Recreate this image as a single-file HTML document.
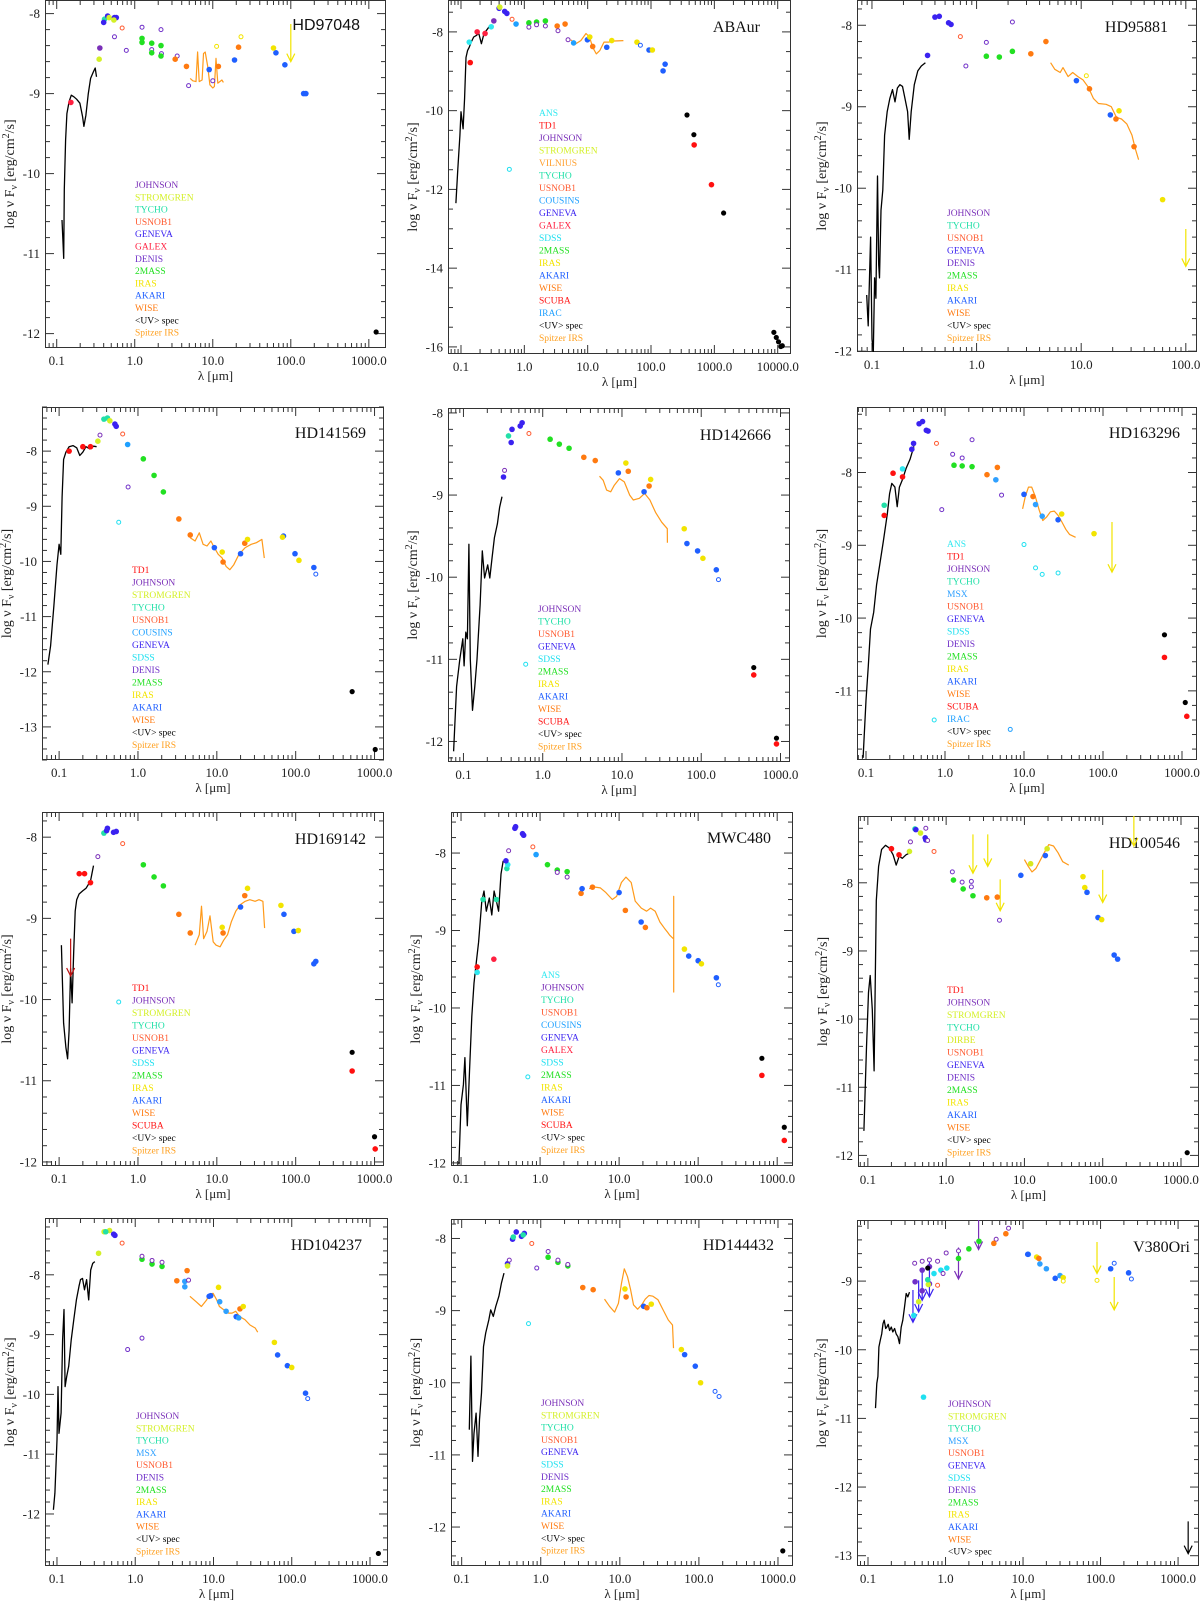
<!DOCTYPE html>
<html><head><meta charset="utf-8"><title>SED panels</title>
<style>
html,body{margin:0;padding:0;background:#fff;}
svg{display:block;font-family:"Liberation Serif","DejaVu Serif",serif;}
</style></head>
<body>
<svg id="chart" width="1200" height="1602" viewBox="0 0 1200 1602" xmlns="http://www.w3.org/2000/svg"></svg>
<script>
// ---------- DATA ----------
const p1_spec_lam=[0.117,0.120,0.123,0.125,0.130,0.135,0.144,0.154,0.166,0.180,0.198,0.215,0.223,0.237,0.254,0.272,0.294,0.311,0.324];
const p1_spec_flux=[-10.58,-10.83,-11.06,-10.2,-9.58,-9.25,-9.1,-9.02,-9.04,-9.07,-9.12,-9.29,-9.41,-9.27,-9.0,-8.81,-8.73,-8.68,-8.79];
const p1_irs_lam=[5.14,5.55,6.1,6.4,6.7,7.3,7.6,8.0,8.6,9.2,10,10.5,11,11.6,12.3,13.1,13.7];
const p1_irs_flux=[-8.81,-8.84,-8.85,-8.48,-8.85,-8.83,-8.5,-8.48,-8.66,-8.89,-8.93,-8.91,-8.56,-8.87,-8.85,-8.83,-8.86];
const p1_lam=[0.357,0.35,0.41,0.40,0.45,0.47,0.55,0.58,0.54,0.55,0.78,1.24,2.17,1.65,2.2,3.5,4.9,10,0.69,1.24,1.24,1.65,1.65,2.17,2.17,3.3,4.6,11.8,21.4,9.0,19,64.5,84,146,156,11.2,23,60,1240,0.152];
const p1_flux=[-8.43,-8.57,-8.07,-8.11,-8.03,-8.05,-8.05,-8.05,-8.08,-8.29,-8.46,-8.17,-8.2,-8.45,-8.5,-8.53,-8.9,-8.84,-8.18,-8.31,-8.36,-8.37,-8.49,-8.40,-8.53,-8.57,-8.66,-8.66,-8.42,-8.7,-8.58,-8.49,-8.64,-9.0,-9.0,-8.41,-8.29,-8.43,-11.98,-9.11];
const p1_cat=["J","S","T","G","G","S","G","G","S","Do","Do","Do","Do","Do","Do","Do","Do","Do","Uo","M2","M2","M2","M2","M2","M2","W","W","W","W","A","A","A","A","A","A","Io","Io","I","K","GX"];
const p1_arr_lam=[100], p1_arr_top=[-8.13], p1_arr_bot=[-8.6], p1_arr_cat=["I"];

const p2_spec_lam=[0.083,0.089,0.096,0.1,0.108,0.114,0.12,0.127,0.135,0.145,0.159,0.175,0.191,0.21,0.231,0.253,0.278];
const p2_spec_flux=[-12.35,-11.49,-10.63,-10.03,-10.46,-9.68,-8.65,-8.47,-8.39,-8.26,-8.13,-8.09,-8.04,-8.3,-8.04,-7.96,-7.87];
const p2_irs_lam=[5.4,6.5,7.8,9.4,10.7,12,13.7,15.6,18.1,21.8,26.3,36.7];
const p2_irs_flux=[-8.2,-8.3,-8.22,-8.04,-8.13,-8.39,-8.56,-8.47,-8.26,-8.26,-8.23,-8.22];
const p2_lam=[0.135,0.14,0.18,0.24,0.3,0.33,0.4,0.41,0.49,0.53,0.64,0.74,1.18,1.56,2.15,1.18,1.56,2.15,3.3,4.4,3.4,4.9,6,9.9,10.8,12,20,24,60,68,93,105,155,167,370,475,480,900,1400,8700,9500,10300,11200,11800,0.58];
const p2_flux=[-8.26,-8.78,-8.0,-8.04,-7.87,-7.72,-7.4,-7.37,-7.48,-7.53,-7.68,-7.8,-7.77,-7.75,-7.72,-7.88,-7.82,-7.85,-7.85,-7.8,-7.97,-8.2,-8.28,-8.2,-8.13,-8.37,-8.39,-8.22,-8.26,-8.34,-8.46,-8.46,-8.99,-8.82,-10.11,-10.61,-10.87,-11.88,-12.6,-15.63,-15.76,-15.87,-15.99,-15.97,-11.49];
const p2_cat=["AN","TD","GX","GX","AN","J","G","S","G","G","Uo","C","M2","M2","M2","Jo","Jo","Jo","W","W","Jo","Jo","IR","A","I","W","A","I","I","Ao","A","I","A","A","K","K","SC","SC","K","K","K","K","K","K","SDo"];
const p2_arr_lam=[], p2_arr_top=[], p2_arr_bot=[], p2_arr_cat=[];

const p3_spec_lam=[0.089,0.092,0.097,0.1,0.103,0.106,0.109,0.113,0.116,0.118,0.122,0.127,0.132,0.14,0.148,0.157,0.166,0.175,0.185,0.196,0.207,0.219,0.227,0.237,0.254,0.274,0.296,0.324];
const p3_spec_flux=[-11.31,-11.69,-10.6,-11.85,-12.02,-11.1,-11.35,-9.85,-10.94,-11.1,-10.27,-10.02,-9.35,-9.06,-8.9,-8.79,-8.94,-8.77,-8.73,-8.75,-8.9,-9.06,-9.4,-9.06,-8.73,-8.56,-8.5,-8.46];
const p3_irs_lam=[5.1,5.6,6.3,6.7,7.5,8.3,9.3,10.4,11.7,13.1,14.6,17.3,19.4,21.7,24.3,27.3,30.6,33,35.4];
const p3_irs_flux=[-8.46,-8.54,-8.58,-8.52,-8.63,-8.58,-8.63,-8.67,-8.76,-8.9,-8.96,-8.97,-9.0,-9.13,-9.15,-9.21,-9.35,-9.52,-9.65];
const p3_lam=[0.34,0.4,0.44,0.54,0.57,0.7,0.79,1.24,2.2,1.24,1.65,2.2,3.3,4.6,9,11.2,12,19,21.5,23,32,60];
const p3_flux=[-8.37,-7.9,-7.89,-7.97,-7.99,-8.14,-8.5,-8.21,-7.96,-8.38,-8.39,-8.32,-8.35,-8.2,-8.68,-8.62,-8.78,-9.1,-9.15,-9.05,-9.49,-10.14];
const p3_cat=["G","G","G","G","G","Uo","Do","Do","Do","M2","M2","M2","W","W","A","Io","W","A","W","I","W","I"];
const p3_arr_lam=[100], p3_arr_top=[-10.5], p3_arr_bot=[-10.96], p3_arr_cat=["I"];

const p4_spec_lam=[0.072,0.078,0.086,0.094,0.1,0.105,0.109,0.114,0.122,0.134,0.15,0.167,0.183,0.2,0.219,0.245,0.273,0.299];
const p4_spec_flux=[-11.87,-11.53,-10.8,-10.06,-9.69,-9.87,-8.83,-8.15,-8.02,-7.92,-7.9,-7.94,-8.08,-8.02,-7.92,-7.96,-7.91,-7.92];
const p4_irs_lam=[4.6,5.3,6.0,6.7,7.5,8.4,9.3,10.4,11.7,13.1,14.6,16.4,19.1,22.9,27.3,31.8,37.3,40];
const p4_irs_flux=[-9.57,-9.63,-9.48,-9.69,-9.72,-9.63,-9.75,-9.87,-9.94,-10.09,-10.15,-10.06,-9.87,-9.75,-9.69,-9.66,-9.6,-9.94];
const p4_lam=[0.134,0.2,0.25,0.31,0.33,0.37,0.41,0.44,0.51,0.53,0.57,0.64,0.74,0.75,1.17,1.6,2.1,3.3,4.6,9.3,11.7,12,20,22.6,24.5,70,68,98,110,170,180,520,1020];
const p4_flux=[-8.0,-7.92,-7.92,-7.82,-7.71,-7.42,-7.4,-7.45,-7.51,-7.55,-9.29,-7.69,-7.88,-8.65,-8.14,-8.44,-8.74,-9.23,-9.52,-9.75,-9.83,-10.01,-9.86,-9.67,-9.6,-9.54,-9.56,-9.86,-9.98,-10.11,-10.23,-12.36,-13.41];
const p4_cat=["TD","TD","TD","S","Jo","T","T","S","G","G","SDo","Uo","C","Do","M2","M2","M2","W","W","A","I","W","A","W","I","A","I","A","I","A","Ao","K","K"];
const p4_arr_lam=[], p4_arr_top=[], p4_arr_bot=[], p4_arr_cat=[];

const p5_spec_lam=[0.075,0.082,0.09,0.098,0.102,0.107,0.112,0.117,0.122,0.13,0.139,0.148,0.162,0.173,0.185,0.202,0.215,0.23,0.246,0.268,0.286,0.306];
const p5_spec_flux=[-12.12,-11.33,-11.0,-10.75,-11.08,-10.67,-10.75,-9.6,-11.0,-11.62,-11.33,-11.0,-10.34,-9.68,-10.01,-9.85,-10.01,-9.76,-9.52,-9.35,-9.15,-9.02];
const p5_irs_lam=[5.2,5.8,6.4,7.2,8.0,9.3,10.7,12.5,13.9,16.6,19.3,22.5,26.5,31.7,37.3,37.4];
const p5_irs_flux=[-8.77,-8.82,-8.94,-8.96,-8.88,-8.8,-8.84,-9.0,-9.06,-9.04,-8.98,-9.06,-9.21,-9.33,-9.41,-9.58];
const p5_lam=[0.32,0.33,0.37,0.40,0.41,0.52,0.55,0.67,0.61,1.24,1.62,2.15,3.3,4.6,9,11.2,12,19,22,23,61,66,90,105,155,165,460,460,890,890];
const p5_flux=[-8.78,-8.7,-8.28,-8.36,-8.2,-8.16,-8.12,-8.25,-11.06,-8.32,-8.38,-8.43,-8.54,-8.58,-8.73,-8.61,-8.71,-8.96,-8.89,-8.81,-9.41,-9.59,-9.68,-9.77,-9.91,-10.03,-11.1,-11.19,-11.96,-12.03];
const p5_cat=["G","Jo","T","G","G","G","G","Uo","SDo","M2","M2","M2","W","W","A","I","W","A","W","I","I","A","A","I","A","Ao","K","SC","K","SC"];
const p5_arr_lam=[], p5_arr_top=[], p5_arr_bot=[], p5_arr_cat=[];

const p6_spec_lam=[0.092,0.1,0.107,0.114,0.125,0.136,0.149,0.166,0.186,0.199,0.212,0.232,0.248,0.265,0.289,0.323,0.361,0.404];
const p6_spec_flux=[-11.92,-11.13,-10.66,-10.15,-9.92,-9.54,-9.27,-8.94,-8.57,-8.29,-8.15,-8.2,-8.47,-8.2,-8.1,-7.94,-7.82,-7.64];
const p6_irs_lam=[9.6,10.4,11.4,12.5,13.9,15.6,17.3,19.4,21.6,24.2,27,30.2,33.8,37.7,45];
const p6_irs_flux=[-8.5,-8.33,-8.2,-8.2,-8.33,-8.52,-8.66,-8.61,-8.54,-8.53,-8.59,-8.68,-8.78,-8.85,-8.89];
const p6_lam=[0.17,0.22,0.29,0.17,0.29,0.38,0.4,0.47,0.52,0.58,0.61,0.78,0.91,1.25,1.3,1.65,2.2,1.65,2.2,3.4,4.6,4.4,5.2,10,14,17,27,10,13,14,17,30,27,77,600,600,1100,1150,0.73,6.7];
const p6_flux=[-8.59,-8.01,-8.06,-8.45,-7.95,-7.68,-7.6,-7.33,-7.3,-7.42,-7.43,-7.6,-8.51,-7.75,-7.9,-7.91,-7.92,-7.8,-7.55,-8.03,-7.93,-8.1,-8.31,-8.99,-9.31,-9.4,-9.38,-8.3,-8.33,-8.44,-8.6,-8.57,-8.65,-8.84,-10.23,-10.54,-11.16,-11.35,-11.4,-11.53];
const p6_cat=["TD","TD","TD","T","AN","G","G","G","G","G","G","Uo","Do","Do","M2","M2","M2","Do","Do","W","W","MS","Do","SDo","SDo","SDo","SDo","A","W","MS","MS","I","A","I","K","SC","K","SC","SDo","IRo"];
const p6_arr_lam=[130], p6_arr_top=[-8.68], p6_arr_bot=[-9.37], p6_arr_cat=["I"];

const p7_spec_lam=[0.107,0.114,0.122,0.128,0.134,0.14,0.146,0.153,0.16,0.167,0.179,0.2,0.219,0.25,0.273];
const p7_spec_flux=[-9.33,-10.29,-10.59,-10.73,-10.38,-9.62,-10.04,-9.41,-8.91,-8.77,-8.7,-8.66,-8.63,-8.54,-8.35];
const p7_irs_lam=[5.3,6,6.4,6.8,7.5,8.2,9,9.8,11,12.2,13.7,15.3,17.4,19.9,22.9,26.2,30.6,34.3,38.4,40.3];
const p7_irs_flux=[-9.33,-9.2,-8.85,-9.25,-9.16,-8.97,-9.29,-9.33,-9.35,-9.27,-9.2,-9.04,-8.91,-8.83,-8.79,-8.77,-8.79,-8.77,-8.79,-9.12];
const p7_lam=[0.18,0.21,0.25,0.31,0.37,0.40,0.41,0.49,0.53,0.64,0.57,1.17,1.6,2.1,3.3,4.6,11.7,12,20,22.6,24.5,65,71,95,108,170,180,520,520,1000,1020];
const p7_flux=[-8.45,-8.45,-8.56,-8.24,-7.95,-7.92,-7.89,-7.94,-7.93,-8.08,-10.03,-8.34,-8.49,-8.6,-8.95,-9.18,-9.11,-9.18,-8.86,-8.72,-8.63,-8.84,-8.95,-9.16,-9.15,-9.56,-9.53,-10.65,-10.88,-11.69,-11.84];
const p7_cat=["TD","TD","TD","Jo","T","G","G","G","G","Uo","SDo","M2","M2","M2","W","W","I","W","A","W","I","I","A","A","I","A","A","K","SC","K","SC"];
const p7_arr_lam=[0.14], p7_arr_top=[-9.25], p7_arr_bot=[-9.71], p7_arr_cat=["TDA"];

const p8_spec_lam=[0.094,0.1,0.107,0.112,0.12,0.128,0.137,0.146,0.156,0.167,0.183,0.195,0.209,0.228,0.245,0.262,0.28,0.299,0.32,0.342];
const p8_spec_flux=[-12.02,-11.25,-10.99,-10.64,-11.52,-10.82,-10.11,-9.68,-9.41,-9.15,-8.62,-8.49,-8.75,-8.58,-8.8,-8.49,-8.62,-8.75,-8.27,-8.1];
const p8_irs_lam=[4.17,5.0,5.8,6.8,8.2,9.3,10.7,12.2,14.2,16,19.1,22.3,25,28.6,32.8,37.4,40.9,43.7,49,49,49];
const p8_irs_flux=[-8.46,-8.44,-8.45,-8.51,-8.6,-8.56,-8.38,-8.31,-8.38,-8.62,-8.71,-8.75,-8.71,-8.75,-8.89,-8.97,-9.02,-9.06,-9.11,-8.56,-9.8];
const p8_lam=[0.16,0.16,0.26,0.19,0.28,0.38,0.39,0.37,0.48,0.49,0.6,0.62,0.4,0.81,0.89,1.24,1.65,2.2,1.65,2.2,3.3,3.4,4.6,10,12,19,21.5,67,76,100,110,170,180,640,640,1230,1230,0.7];
const p8_flux=[-9.54,-9.47,-9.37,-8.6,-8.6,-8.2,-8.15,-8.1,-7.68,-7.66,-7.75,-7.77,-7.97,-7.92,-8.02,-8.15,-8.22,-8.24,-8.25,-8.31,-8.52,-8.46,-8.44,-8.51,-8.74,-8.89,-8.96,-9.24,-9.33,-9.39,-9.43,-9.61,-9.7,-10.65,-10.87,-11.54,-11.71,-10.89];
const p8_cat=["AN","TD","GX","T","T","T","AN","G","G","G","G","G","Jo","Uo","C","M2","M2","M2","Jo","Jo","W","A","W","A","W","A","W","I","A","A","I","A","Ao","K","SC","K","SC","SDo"];
const p8_arr_lam=[], p8_arr_top=[], p8_arr_bot=[], p8_arr_cat=[];

const p9_spec_lam=[0.089,0.096,0.102,0.107,0.114,0.12,0.128,0.137,0.15,0.168,0.188,0.21,0.23,0.251,0.275,0.307,0.344];
const p9_spec_flux=[-11.64,-10.41,-9.61,-9.36,-9.86,-10.76,-8.26,-7.76,-7.51,-7.45,-7.49,-7.59,-7.74,-7.61,-7.64,-7.59,-7.56];
const p9_irs_lam=[10,11.2,12.5,14,15.6,17.9,20.5,23.5,26.9,30.8,36.9];
const p9_irs_flux=[-7.66,-7.76,-7.84,-7.79,-7.69,-7.56,-7.44,-7.46,-7.56,-7.69,-7.74];
const p9_lam=[0.2,0.25,0.34,0.4,0.41,0.47,0.54,0.55,0.35,0.55,0.58,0.7,1.2,1.6,2.1,2.1,4.8,1.24,1.65,2.2,3.3,4.5,9,18.5,12,19.5,56,59,63,87,97,140,155,1200];
const p9_flux=[-7.5,-7.59,-7.54,-7.21,-7.22,-7.27,-7.34,-7.37,-7.4,-7.2,-7.38,-7.54,-7.84,-7.99,-7.98,-8.06,-8.55,-7.96,-8.09,-8.19,-8.22,-8.21,-7.89,-7.6,-7.72,-7.5,-7.91,-8.07,-8.14,-8.51,-8.54,-9.06,-9.12,-11.96];
const p9_cat=["TD","TD","S","T","G","S","G","G","Jo","Jo","Jo","Uo","Do","Do","Do","Do","Do","M2","M2","M2","W","W","A","A","DI","DI","I","I","A","A","I","A","A","K"];
const p9_arr_lam=[2.2,3.4,4.9,100,250], p9_arr_top=[-7.29,-7.29,-7.95,-7.81,-6.99], p9_arr_bot=[-7.86,-7.76,-8.41,-8.29,-7.46], p9_arr_cat=["I","I","I","I","I"];

const p10_spec_lam=[0.09,0.094,0.1,0.103,0.106,0.113,0.118,0.123,0.127,0.133,0.141,0.152,0.164,0.177,0.191,0.2,0.212,0.225,0.239,0.254,0.27,0.286,0.304];
const p10_spec_flux=[-11.93,-11.65,-10.76,-9.87,-10.65,-10.31,-9.09,-8.58,-9.87,-9.7,-9.53,-9.09,-8.75,-8.42,-8.19,-8.08,-8.06,-8.25,-8.08,-8.42,-7.92,-7.81,-7.78];
const p10_irs_lam=[5.0,6.0,7.0,8.2,8.8,9.9,11,11.9,13.4,15.6,17.3,19.2,21.7,25.2,29.3,34.1,36.7];
const p10_irs_flux=[-8.36,-8.45,-8.53,-8.42,-8.33,-8.31,-8.42,-8.53,-8.58,-8.64,-8.64,-8.61,-8.7,-8.75,-8.84,-8.89,-8.96];
const p10_lam=[0.34,0.4,0.47,0.42,0.53,0.55,0.68,0.8,1.22,1.22,1.64,2.2,1.22,1.64,2.2,3.4,4.6,4.3,4.3,4.8,11.6,8.8,9.2,12,14.5,19.5,21,21.8,24,60,66,88,100,150,160,1280];
const p10_flux=[-7.64,-7.28,-7.26,-7.28,-7.32,-7.34,-7.47,-9.25,-9.06,-7.74,-7.82,-7.86,-7.69,-7.76,-7.79,-8.1,-7.93,-8.11,-8.2,-8.09,-8.21,-8.36,-8.35,-8.45,-8.61,-8.7,-8.72,-8.57,-8.53,-9.13,-9.34,-9.52,-9.55,-9.98,-10.07,-12.66];
const p10_cat=["S","S","S","T","G","G","Uo","Do","Do","M2","M2","M2","Jo","Jo","Jo","W","W","MS","MS","Jo","I","A","A","MS","MS","A","MS","W","I","I","A","A","I","A","Ao","K"];
const p10_arr_lam=[], p10_arr_top=[], p10_arr_bot=[], p10_arr_cat=[];

const p11_spec_lam=[0.125,0.131,0.137,0.143,0.152,0.161,0.168,0.178,0.189,0.201,0.22,0.233,0.251,0.27,0.296,0.318,0.343];
const p11_spec_flux=[-10.65,-9.63,-11.09,-10.7,-10.42,-11.02,-10.51,-10.14,-9.5,-9.31,-9.13,-8.99,-9.08,-8.94,-8.8,-8.62,-8.48];
const p11_irs_lam=[6.4,7.4,8.6,9.6,10.5,11.4,12.5,13.7,14.9,16.8,18.9,21,23.4,26.2,30.4,35.3,41,46.3,47.7];
const p11_irs_flux=[-8.84,-8.94,-9.02,-8.9,-8.62,-8.42,-8.53,-8.71,-8.92,-8.98,-8.92,-8.84,-8.79,-8.8,-8.85,-8.99,-9.13,-9.2,-9.52];
const p11_lam=[0.38,0.38,0.4,0.44,0.49,0.57,0.62,0.45,0.6,0.77,0.7,0.89,1.24,1.65,2.2,1.24,1.65,2.2,3.4,4.6,11.6,12,20,22,25,60,66,90,105,160,180,1150];
const p11_flux=[-8.35,-8.38,-8.3,-8.01,-7.91,-7.97,-7.93,-7.98,-7.95,-8.07,-9.18,-8.41,-8.26,-8.33,-8.38,-8.18,-8.3,-8.36,-8.68,-8.71,-8.7,-8.81,-8.94,-8.96,-8.91,-9.54,-9.61,-9.77,-10.0,-10.12,-10.19,-12.33];
const p11_cat=["G","S","Jo","G","G","G","G","T","T","Uo","SDo","Do","M2","M2","M2","Jo","Jo","Jo","W","W","I","W","A","W","I","I","A","A","I","Ao","Ao","K"];
const p11_arr_lam=[], p11_arr_top=[], p11_arr_bot=[], p11_arr_cat=[];

const p12_spec_lam=[0.125,0.13,0.134,0.138,0.144,0.15,0.156,0.162,0.169,0.175,0.182,0.19,0.2,0.209,0.22,0.231,0.243,0.255,0.268,0.281,0.296,0.311,0.326,0.343];
const p12_spec_flux=[-10.85,-10.49,-10.39,-9.96,-9.86,-9.77,-9.62,-9.57,-9.69,-9.67,-9.63,-9.72,-9.67,-9.74,-9.69,-9.77,-9.81,-9.91,-9.67,-9.57,-9.38,-9.18,-9.23,-9.16];
const p12_irs_lam=[], p12_irs_flux=[];
const p12_lam=[0.405,0.5,0.5,0.62,0.62,0.59,0.39,0.45,0.6,0.59,0.87,1.04,0.71,0.52,0.4,0.5,0.62,0.79,1.02,1.47,4.5,6.5,0.93,0.79,1.47,2.0,2.7,4.2,6,11.7,16.5,20,30,11.5,26,15,16,33,33,90,135,230,150,250];
const p12_flux=[-9.01,-8.84,-9.14,-8.79,-9.04,-8.81,-9.5,-9.3,-9.05,-8.98,-8.84,-8.81,-8.89,-10.69,-8.74,-8.71,-8.69,-8.71,-8.59,-8.56,-8.39,-8.23,-8.89,-9.06,-8.67,-8.53,-8.42,-8.45,-8.31,-8.61,-8.75,-8.82,-8.92,-8.61,-8.96,-8.65,-8.67,-8.95,-9.0,-8.99,-8.82,-8.88,-8.74,-8.97];
const p12_cat=["D","D","D","D","D","K","SD","S","S","T","SD","SD","SD","SD","Jo","Jo","Jo","Jo","Jo","Jo","Jo","Jo","Jo","Uo","M2","M2","M2","W","W","MS","MS","MS","MS","A","A","I","W","I","Io","Io","A","A","Ao","Ao"];
const p12_arr_lam=[0.38,0.45,0.5,0.62,1.47,2.67,90,150,1350], p12_arr_top=[-9.13,-8.99,-8.82,-8.72,-8.51,-8.08,-8.43,-8.94,-12.5], p12_arr_bot=[-9.6,-9.45,-9.28,-9.23,-8.97,-8.54,-8.89,-9.42,-12.97], p12_arr_cat=["G","G","G","G","J","J","I","I","K"];

const leg1=["JOHNSON","STROMGREN","TYCHO","USNOB1","GENEVA","GALEX","DENIS","2MASS","IRAS","AKARI","WISE","<UV> spec","Spitzer IRS"];
const leg2=["ANS","TD1","JOHNSON","STROMGREN","VILNIUS","TYCHO","USNOB1","COUSINS","GENEVA","GALEX","SDSS","2MASS","IRAS","AKARI","WISE","SCUBA","IRAC","<UV> spec","Spitzer IRS"];
const leg3=["JOHNSON","TYCHO","USNOB1","GENEVA","DENIS","2MASS","IRAS","AKARI","WISE","<UV> spec","Spitzer IRS"];
const leg4=["TD1","JOHNSON","STROMGREN","TYCHO","USNOB1","COUSINS","GENEVA","SDSS","DENIS","2MASS","IRAS","AKARI","WISE","<UV> spec","Spitzer IRS"];
const leg5=["JOHNSON","TYCHO","USNOB1","GENEVA","SDSS","2MASS","IRAS","AKARI","WISE","SCUBA","<UV> spec","Spitzer IRS"];
const leg6=["ANS","TD1","JOHNSON","TYCHO","MSX","USNOB1","GENEVA","SDSS","DENIS","2MASS","IRAS","AKARI","WISE","SCUBA","IRAC","<UV> spec","Spitzer IRS"];
const leg7=["TD1","JOHNSON","STROMGREN","TYCHO","USNOB1","GENEVA","SDSS","2MASS","IRAS","AKARI","WISE","SCUBA","<UV> spec","Spitzer IRS"];
const leg8=["ANS","JOHNSON","TYCHO","USNOB1","COUSINS","GENEVA","GALEX","SDSS","2MASS","IRAS","AKARI","WISE","SCUBA","<UV> spec","Spitzer IRS"];
const leg9=["TD1","JOHNSON","STROMGREN","TYCHO","DIRBE","USNOB1","GENEVA","DENIS","2MASS","IRAS","AKARI","WISE","<UV> spec","Spitzer IRS"];
const leg10=["JOHNSON","STROMGREN","TYCHO","MSX","USNOB1","DENIS","2MASS","IRAS","AKARI","WISE","<UV> spec","Spitzer IRS"];
const leg11=["JOHNSON","STROMGREN","TYCHO","USNOB1","GENEVA","SDSS","DENIS","2MASS","IRAS","AKARI","WISE","<UV> spec","Spitzer IRS"];
const leg12=["JOHNSON","STROMGREN","TYCHO","MSX","USNOB1","GENEVA","SDSS","DENIS","2MASS","IRAS","AKARI","WISE","<UV> spec"];

// ---------- STYLE / LAYOUT ----------
const COL={J:"#7a2fb8",S:"#d4f028",T:"#22e0a8",U:"#ff5a30",G:"#3a22f0",GX:"#ff2040",D:"#7030c8",M2:"#22e022",I:"#f2e400",A:"#1f5fff",W:"#ff7a10",K:"#000000",AN:"#30e8f0",TD:"#ff1010",V:"#ffa030",C:"#1ea0ff",SD:"#20e0f0",SC:"#ff1010",IR:"#20a0ff",MS:"#2fa0ff",DI:"#d8e820",TDA:"#c01010"};
const LEGCOL={"JOHNSON":"#7a2fb8","STROMGREN":"#d4f028","TYCHO":"#22e0a8","USNOB1":"#ff5a30","GENEVA":"#3a22f0","GALEX":"#ff2040","DENIS":"#7030c8","2MASS":"#22e022","IRAS":"#f2e400","AKARI":"#1f5fff","WISE":"#ff7a10","<UV> spec":"#000000","Spitzer IRS":"#ffa020","ANS":"#30e8f0","TD1":"#ff1010","VILNIUS":"#ffa030","COUSINS":"#1ea0ff","SDSS":"#20e0f0","SCUBA":"#ff1010","IRAC":"#20a0ff","MSX":"#2fa0ff","DIRBE":"#d8e820"};

const panels=[
 {name:"HD97048",sans:true,L:45,R:386,T:0,B:348,x0:-1.15,x1:3.22,y0:-7.83,y1:-12.18,step:1,lx:135,ly:188,ls:12.3,tx:360,ty:30,spl:p1_spec_lam,spf:p1_spec_flux,irl:p1_irs_lam,irf:p1_irs_flux,lam:p1_lam,flux:p1_flux,cat:p1_cat,al:p1_arr_lam,at:p1_arr_top,ab:p1_arr_bot,ac:p1_arr_cat,leg:leg1},
 {name:"ABAur",L:448,R:791,T:0,B:354,x0:-1.205,x1:4.21,y0:-7.19,y1:-16.18,step:2,lx:539,ly:116,ls:12.5,tx:760,ty:32,spl:p2_spec_lam,spf:p2_spec_flux,irl:p2_irs_lam,irf:p2_irs_flux,lam:p2_lam,flux:p2_flux,cat:p2_cat,al:p2_arr_lam,at:p2_arr_top,ab:p2_arr_bot,ac:p2_arr_cat,leg:leg2},
 {name:"HD95881",L:857,R:1197,T:0,B:352,x0:-1.143,x1:2.107,y0:-7.69,y1:-12.01,step:1,lx:947,ly:216,ls:12.5,tx:1168,ty:32,spl:p3_spec_lam,spf:p3_spec_flux,irl:p3_irs_lam,irf:p3_irs_flux,lam:p3_lam,flux:p3_flux,cat:p3_cat,al:p3_arr_lam,at:p3_arr_top,ab:p3_arr_bot,ac:p3_arr_cat,leg:leg3},
 {name:"HD141569",L:42,R:384,T:407,B:760,x0:-1.217,x1:3.12,y0:-7.2,y1:-13.6,step:1,lx:132,ly:573,ls:12.5,tx:366,ty:438,spl:p4_spec_lam,spf:p4_spec_flux,irl:p4_irs_lam,irf:p4_irs_flux,lam:p4_lam,flux:p4_flux,cat:p4_cat,al:p4_arr_lam,at:p4_arr_top,ab:p4_arr_bot,ac:p4_arr_cat,leg:leg4},
 {name:"HD142666",L:448,R:790,T:408,B:762,x0:-1.195,x1:3.12,y0:-7.94,y1:-12.25,step:1,lx:538,ly:612,ls:12.5,tx:771,ty:440,spl:p5_spec_lam,spf:p5_spec_flux,irl:p5_irs_lam,irf:p5_irs_flux,lam:p5_lam,flux:p5_flux,cat:p5_cat,al:p5_arr_lam,at:p5_arr_top,ab:p5_arr_bot,ac:p5_arr_cat,leg:leg5},
 {name:"HD163296",L:857,R:1197,T:407,B:760,x0:-1.114,x1:3.19,y0:-7.10,y1:-11.95,step:1,lx:947,ly:547,ls:12.5,tx:1180,ty:438,spl:p6_spec_lam,spf:p6_spec_flux,irl:p6_irs_lam,irf:p6_irs_flux,lam:p6_lam,flux:p6_flux,cat:p6_cat,al:p6_arr_lam,at:p6_arr_top,ab:p6_arr_bot,ac:p6_arr_cat,leg:leg6},
 {name:"HD169142",L:42,R:384,T:812,B:1166,x0:-1.217,x1:3.12,y0:-7.69,y1:-12.05,step:1,lx:132,ly:991,ls:12.5,tx:366,ty:844,spl:p7_spec_lam,spf:p7_spec_flux,irl:p7_irs_lam,irf:p7_irs_flux,lam:p7_lam,flux:p7_flux,cat:p7_cat,al:p7_arr_lam,at:p7_arr_top,ab:p7_arr_bot,ac:p7_arr_cat,leg:leg7},
 {name:"MWC480",L:451,R:793,T:812,B:1166,x0:-1.127,x1:3.2,y0:-7.47,y1:-12.04,step:1,lx:541,ly:978,ls:12.5,tx:771,ty:843,spl:p8_spec_lam,spf:p8_spec_flux,irl:p8_irs_lam,irf:p8_irs_flux,lam:p8_lam,flux:p8_flux,cat:p8_cat,al:p8_arr_lam,at:p8_arr_top,ab:p8_arr_bot,ac:p8_arr_cat,leg:leg8},
 {name:"HD100546",L:858,R:1199,T:816,B:1167,x0:-1.126,x1:3.23,y0:-7.02,y1:-12.17,step:1,lx:947,ly:993,ls:12.5,tx:1180,ty:848,spl:p9_spec_lam,spf:p9_spec_flux,irl:p9_irs_lam,irf:p9_irs_flux,lam:p9_lam,flux:p9_flux,cat:p9_cat,al:p9_arr_lam,at:p9_arr_top,ab:p9_arr_bot,ac:p9_arr_cat,leg:leg9},
 {name:"HD104237",L:45,R:388,T:1218,B:1566,x0:-1.153,x1:3.23,y0:-7.05,y1:-12.87,step:1,lx:136,ly:1419,ls:12.3,tx:362,ty:1250,spl:p10_spec_lam,spf:p10_spec_flux,irl:p10_irs_lam,irf:p10_irs_flux,lam:p10_lam,flux:p10_flux,cat:p10_cat,al:p10_arr_lam,at:p10_arr_top,ab:p10_arr_bot,ac:p10_arr_cat,leg:leg10},
 {name:"HD144432",L:451,R:793,T:1219,B:1566,x0:-1.135,x1:3.19,y0:-7.73,y1:-12.54,step:1,lx:541,ly:1406,ls:12.3,tx:774,ty:1250,spl:p11_spec_lam,spf:p11_spec_flux,irl:p11_irs_lam,irf:p11_irs_flux,lam:p11_lam,flux:p11_flux,cat:p11_cat,al:p11_arr_lam,at:p11_arr_top,ab:p11_arr_bot,ac:p11_arr_cat,leg:leg11},
 {name:"V380Ori",L:857,R:1199,T:1220,B:1566,x0:-1.142,x1:3.27,y0:-8.11,y1:-13.15,step:1,lx:948,ly:1407,ls:12.3,tx:1190,ty:1252,spl:p12_spec_lam,spf:p12_spec_flux,irl:p12_irs_lam,irf:p12_irs_flux,lam:p12_lam,flux:p12_flux,cat:p12_cat,al:p12_arr_lam,at:p12_arr_top,ab:p12_arr_bot,ac:p12_arr_cat,leg:leg12}
];

// ---------- DRAW ----------
const NS="http://www.w3.org/2000/svg";
const svg=document.getElementById('chart');
function mk(tag,parent,attrs){const e=document.createElementNS(NS,tag);for(const k in attrs)e.setAttribute(k,attrs[k]);parent.appendChild(e);return e;}
const defs=mk('defs',svg,{});

panels.forEach((p,pi)=>{
  const slug=p.name.toLowerCase();
  const sx=v=>p.L+(Math.log10(v)-p.x0)/(p.x1-p.x0)*(p.R-p.L);
  const sy=v=>p.T+(p.y0-v)/(p.y0-p.y1)*(p.B-p.T);
  const g=mk('g',svg,{});
  
  
  const cp=mk('clipPath',defs,{id:'clip'+pi});
  mk('rect',cp,{x:p.L,y:p.T,width:p.R-p.L,height:p.B-p.T});

  const ax=mk('g',g,{stroke:'#333','stroke-width':1});
  
  
  const frame=mk('rect',ax,{x:p.L+0.5,y:p.T+0.5,width:p.R-p.L-1,height:p.B-p.T-1,fill:'none'});
  
  
  for(let k=Math.floor(p.x0);k<=Math.ceil(p.x1);k++){
    for(let m=1;m<=9;m++){
      const lv=k+Math.log10(m);
      if(lv<p.x0||lv>p.x1)continue;
      const x=sx(Math.pow(10,lv));const len=m===1?9:5;
      const t1=mk('line',ax,{x1:x,x2:x,y1:p.B,y2:p.B-len});
      
      
      const t2=mk('line',ax,{x1:x,x2:x,y1:p.T,y2:p.T+len});
      
      
      if(m===1){
        const txt=k<0?Math.pow(10,k).toFixed(Math.abs(k)):Math.pow(10,k).toFixed(0)+'.0';
        const tl=mk('text',g,{x:x,y:p.B+17,'font-size':13,'text-anchor':'middle',fill:'#222'});
        tl.textContent=txt;
        
        
      }
    }
  }
  const minor=p.step===2?0.5:0.2;
  const nmin=Math.ceil(p.y1/minor-1e-6), nmax=Math.floor(p.y0/minor+1e-6);
  for(let n=nmin;n<=nmax;n++){
    const v=n*minor;const isMaj=Math.abs(v/p.step-Math.round(v/p.step))<1e-6;
    const y=sy(v);const len=isMaj?9:5;
    const t1=mk('line',ax,{x1:p.L,x2:p.L+len,y1:y,y2:y});
    
    
    const t2=mk('line',ax,{x1:p.R,x2:p.R-len,y1:y,y2:y});
    
    
    if(isMaj){
      const tl=mk('text',g,{x:p.L-5,y:y+4.5,'font-size':13,'text-anchor':'end',fill:'#222'});
      tl.textContent=String(Math.round(v));
      
      
    }
  }
  const xt=mk('text',g,{x:(p.L+p.R)/2,y:p.B+32,'font-size':13,'text-anchor':'middle',fill:'#222'});
  xt.textContent='λ [μm]';
  
  
  const cy=(p.T+p.B)/2, cx=p.L-31;
  const yt=mk('text',g,{x:cx,y:cy,'font-size':14,'text-anchor':'middle',fill:'#222',transform:`rotate(-90 ${cx} ${cy})`});
  
  
  yt.appendChild(document.createTextNode('log ν F'));
  const sub=mk('tspan',yt,{'font-size':10,dy:3});sub.textContent='ν';
  const r1=mk('tspan',yt,{dy:-3});r1.textContent=' [erg/cm';
  const sup=mk('tspan',yt,{'font-size':10,dy:-5});sup.textContent='2';
  const r2=mk('tspan',yt,{dy:5});r2.textContent='/s]';

  const ti=mk('text',g,{x:p.tx,y:p.ty,'font-size':16,'text-anchor':'end',fill:'#111','font-family':p.sans?'"Liberation Sans", sans-serif':'"Liberation Serif", serif'});
  ti.textContent=p.name;
  
  

  const lg=mk('g',g,{'font-size':9.5});
  
  
  p.leg.forEach((s,i)=>{
    const t=mk('text',lg,{x:p.lx,y:p.ly+i*p.ls,fill:LEGCOL[s]});
    t.textContent=s;
    
    
  });

  const plot=mk('g',g,{'clip-path':`url(#clip${pi})`});
  
  
  if(p.spl.length){
    const pts=p.spl.map((l,i)=>sx(l).toFixed(1)+','+sy(p.spf[i]).toFixed(1)).join(' ');
    const pl=mk('polyline',plot,{points:pts,fill:'none',stroke:'#000','stroke-width':1.3,'stroke-linejoin':'round'});
    
    
  }
  if(p.irl.length){
    const pts=p.irl.map((l,i)=>sx(l).toFixed(1)+','+sy(p.irf[i]).toFixed(1)).join(' ');
    const pl=mk('polyline',plot,{points:pts,fill:'none',stroke:'#ff9a1a','stroke-width':1.2,'stroke-linejoin':'round'});
    
    
  }
  p.al.forEach((l,i)=>{
    const x=sx(l),y1=sy(p.at[i]),y2=sy(p.ab[i]);const c=COL[p.ac[i]];
    const a=mk('path',plot,{d:`M${x},${y1}L${x},${y2}M${x-4},${y2-8}L${x},${y2}L${x+4},${y2-8}`,fill:'none',stroke:c,'stroke-width':1.2});
    
    
  });
  p.lam.forEach((l,i)=>{
    let c=p.cat[i];const open=c.length>1&&c.endsWith('o')&&COL[c.slice(0,-1)];
    if(open)c=c.slice(0,-1);
    const x=sx(l),y=sy(p.flux[i]);
    const pt=open?mk('circle',plot,{cx:x,cy:y,r:2,fill:'#fff',stroke:COL[c],'stroke-width':1})
                 :mk('circle',plot,{cx:x,cy:y,r:c==='K'?2.6:2.8,fill:COL[c]});
    
    
  });
});
</script>
</body></html>
